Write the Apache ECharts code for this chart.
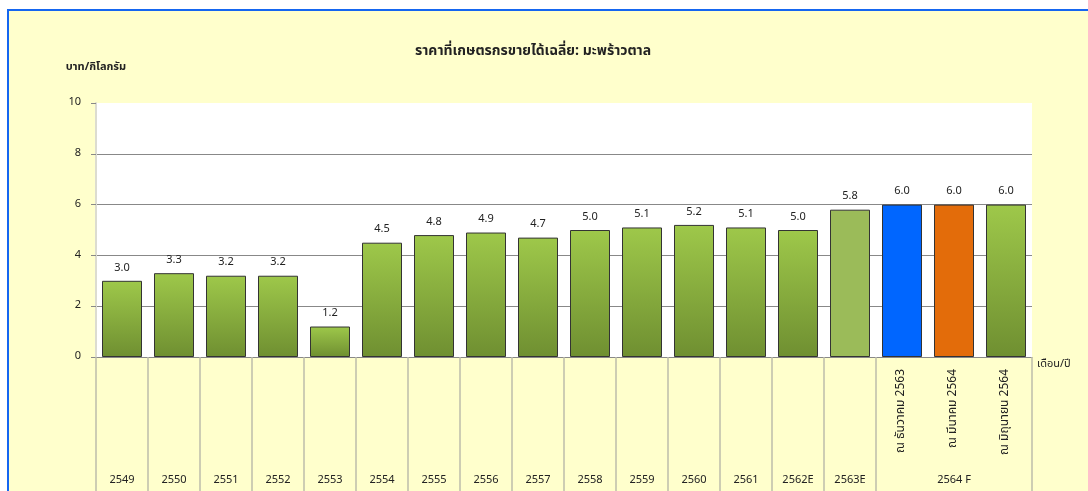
<!DOCTYPE html>
<html>
<head>
<meta charset="utf-8">
<script src="https://cdn.jsdelivr.net/npm/echarts@6/dist/echarts.min.js"></script>
<style>
  html, body { margin: 0; padding: 0; background: #fff; }
  #frame {
    position: absolute; left: 7px; top: 9px; right: 0; bottom: 0;
    background: #ffffcc;
    border-top: 2px solid #1566f0;
    border-left: 2px solid #1566f0;
  }
  #chart { position: absolute; left: 0; top: 0; width: 1088px; height: 491px; }
</style>
</head>
<body>
<div id="frame"></div>
<div id="chart"></div>
<script>
// ราคาที่เกษตรกรขายได้เฉลี่ย มะพร้าวตาล (บาท/กิโลกรัม)
const categories = ['2549', '2550', '2551', '2552', '2553', '2554', '2555', '2556', '2557',
  '2558', '2559', '2560', '2561', '2562E', '2563E', 'm1', 'm2', 'm3'];
const yearLabels = ['2549', '2550', '2551', '2552', '2553', '2554', '2555', '2556', '2557',
  '2558', '2559', '2560', '2561', '2562E', '2563E', '', '2564 F', ''];
const monthLabels = ['', '', '', '', '', '', '', '', '', '', '', '', '', '', '',
  'ณ ธันวาคม 2563', 'ณ มีนาคม 2564', 'ณ มิถุนายน 2564'];
const prices = [3.0, 3.3, 3.2, 3.2, 1.2, 4.5, 4.8, 4.9, 4.7, 5.0, 5.1, 5.2, 5.1, 5.0, 5.8, 6.0, 6.0, 6.0];
const yTicks = [0, 2, 4, 6, 8, 10];

const font = 'Tahoma, "Noto Sans Thai", "Noto Sans", "DejaVu Sans", sans-serif';

const greenGrad = new echarts.graphic.LinearGradient(0, 0, 0, 1, [
  { offset: 0, color: '#9ec84a' },
  { offset: 1, color: '#6f8f31' }
]);
function barColor(i) {
  if (i === 14) return '#9bbb59';
  if (i === 15) return '#0066ff';
  if (i === 16) return '#e36c0a';
  return greenGrad;
}

const chart = echarts.init(document.getElementById('chart'));
chart.setOption({
  backgroundColor: 'transparent',
  textStyle: { fontFamily: font },
  title: {
    text: 'ราคาที่เกษตรกรขายได้เฉลี่ย: มะพร้าวตาล',
    left: 410, top: 40,
    textStyle: { fontSize: 14, fontWeight: 'bold', color: '#222', fontFamily: font }
  },
  grid: {
    left: 96, right: 56, top: 103, bottom: 134,
    show: true, backgroundColor: '#ffffff', borderWidth: 0
  },
  xAxis: [
    {
      type: 'category',
      data: categories,
      name: 'เดือน/ปี',
      nameLocation: 'end',
      nameGap: 5,
      nameTextStyle: { fontSize: 11, color: '#222', verticalAlign: 'top', padding: [2, 0, 0, 0] },
      axisLine: { lineStyle: { color: '#888', width: 1 } },
      axisTick: {
        show: true,
        length: 140,
        interval: function (idx) { return idx <= 15; },
        lineStyle: { color: '#bdbdab', width: 1.5 }
      },
      axisLabel: {
        interval: 0,
        rotate: 90,
        margin: 12,
        fontSize: 12,
        color: '#222',
        formatter: function (v, i) { return monthLabels[i]; }
      }
    },
    {
      type: 'category',
      data: yearLabels,
      position: 'bottom',
      offset: 116,
      axisLine: { show: false },
      axisTick: { show: false },
      axisLabel: { interval: 0, margin: 2, fontSize: 11, color: '#222' }
    }
  ],
  yAxis: {
    type: 'value',
    min: 0, max: 10, interval: 2,
    name: 'บาท/กิโลกรัม',
    nameLocation: 'end',
    nameGap: 30,
    nameTextStyle: { fontSize: 11, fontWeight: 'bold', color: '#222', align: 'center' },
    axisLine: { show: true, lineStyle: { color: '#dcdcd0', width: 2 } },
    axisTick: { show: true, length: 5, lineStyle: { color: '#888' } },
    axisLabel: {
      margin: 15, fontSize: 11, color: '#222',
      customValues: yTicks
    },
    splitLine: {
      show: true,
      lineStyle: { color: ['#888', '#888', '#888', '#888', '#888', 'rgba(0,0,0,0)'], width: 1 }
    }
  },
  series: [{
    type: 'bar',
    data: prices,
    barWidth: 40,
    itemStyle: {
      color: function (p) { return barColor(p.dataIndex); },
      borderColor: '#333',
      borderWidth: 1
    },
    label: {
      show: true,
      position: 'top',
      distance: 7,
      fontSize: 11,
      color: '#222',
      formatter: function (p) { return p.value.toFixed(1); }
    }
  }]
});
</script>
</body>
</html>
